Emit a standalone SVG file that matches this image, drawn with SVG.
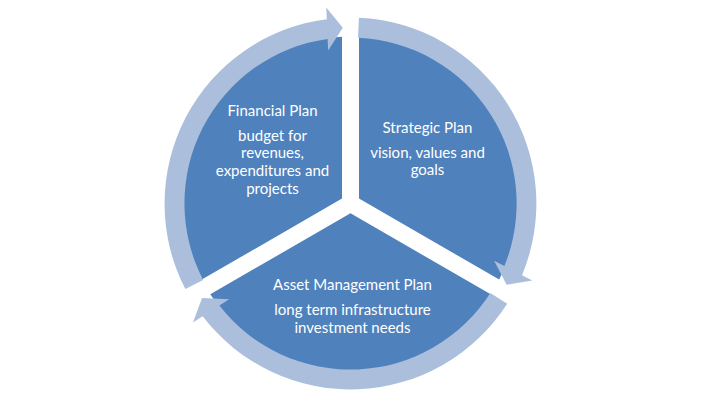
<svg xmlns="http://www.w3.org/2000/svg" xmlns:xlink="http://www.w3.org/1999/xlink" width="701" height="409" viewBox="0 0 701 409">
<style>
.sector{fill:#4F81BD;}
.ring{fill:#ABBFDC;}
.t{font-family:Lato,"Liberation Sans",sans-serif;font-size:15px;fill:#FFFFFF;text-anchor:middle;}
</style>
<defs>
<path id="cyc-arrow" d="M 185.37 289.10 A 186 186 0 0 1 326.79 19.13 L 326.28 7.57 L 342.82 27.67 L 328.16 50.53 L 327.65 38.96 A 166 166 0 0 0 203.12 279.89 Z"/>
</defs>
<rect x="0" y="0" width="701" height="409" fill="#FFFFFF"/>
<g id="node-strategic">
<path class="sector" d="M 359 198.6 L 359 36.72 A 167 167 0 0 1 499.19 279.53 Z"/>
<text class="t" x="427.5" y="133.3">Strategic Plan</text>
<text class="t" x="427.5" y="157.5">vision, values and</text>
<text class="t" x="427.5" y="175">goals</text>
</g>
<g id="node-asset">
<path class="sector" d="M 350.5 213.31 L 490.68 294.25 A 167 167 0 0 1 210.31 294.25 Z"/>
<text class="t" x="352.5" y="289.5">Asset Management Plan</text>
<text class="t" x="352.5" y="315">long term infrastructure</text>
<text class="t" x="352.5" y="332.7">investment needs</text>
</g>
<g id="node-financial">
<path class="sector" d="M 342 198.6 L 201.81 279.53 A 167 167 0 0 1 342 36.72 Z"/>
<text class="t" x="272.5" y="116">Financial Plan</text>
<text class="t" x="272.5" y="140.5">budget for</text>
<text class="t" x="272.5" y="158.2">revenues,</text>
<text class="t" x="272.5" y="176">expenditures and</text>
<text class="t" x="272.5" y="193.5">projects</text>
</g>
<g id="connectors">
<use class="ring" xlink:href="#cyc-arrow" href="#cyc-arrow"/>
<use class="ring" xlink:href="#cyc-arrow" href="#cyc-arrow" transform="rotate(120 350.5 203.5)"/>
<use class="ring" xlink:href="#cyc-arrow" href="#cyc-arrow" transform="rotate(240 350.5 203.5)"/>
</g>
</svg>
